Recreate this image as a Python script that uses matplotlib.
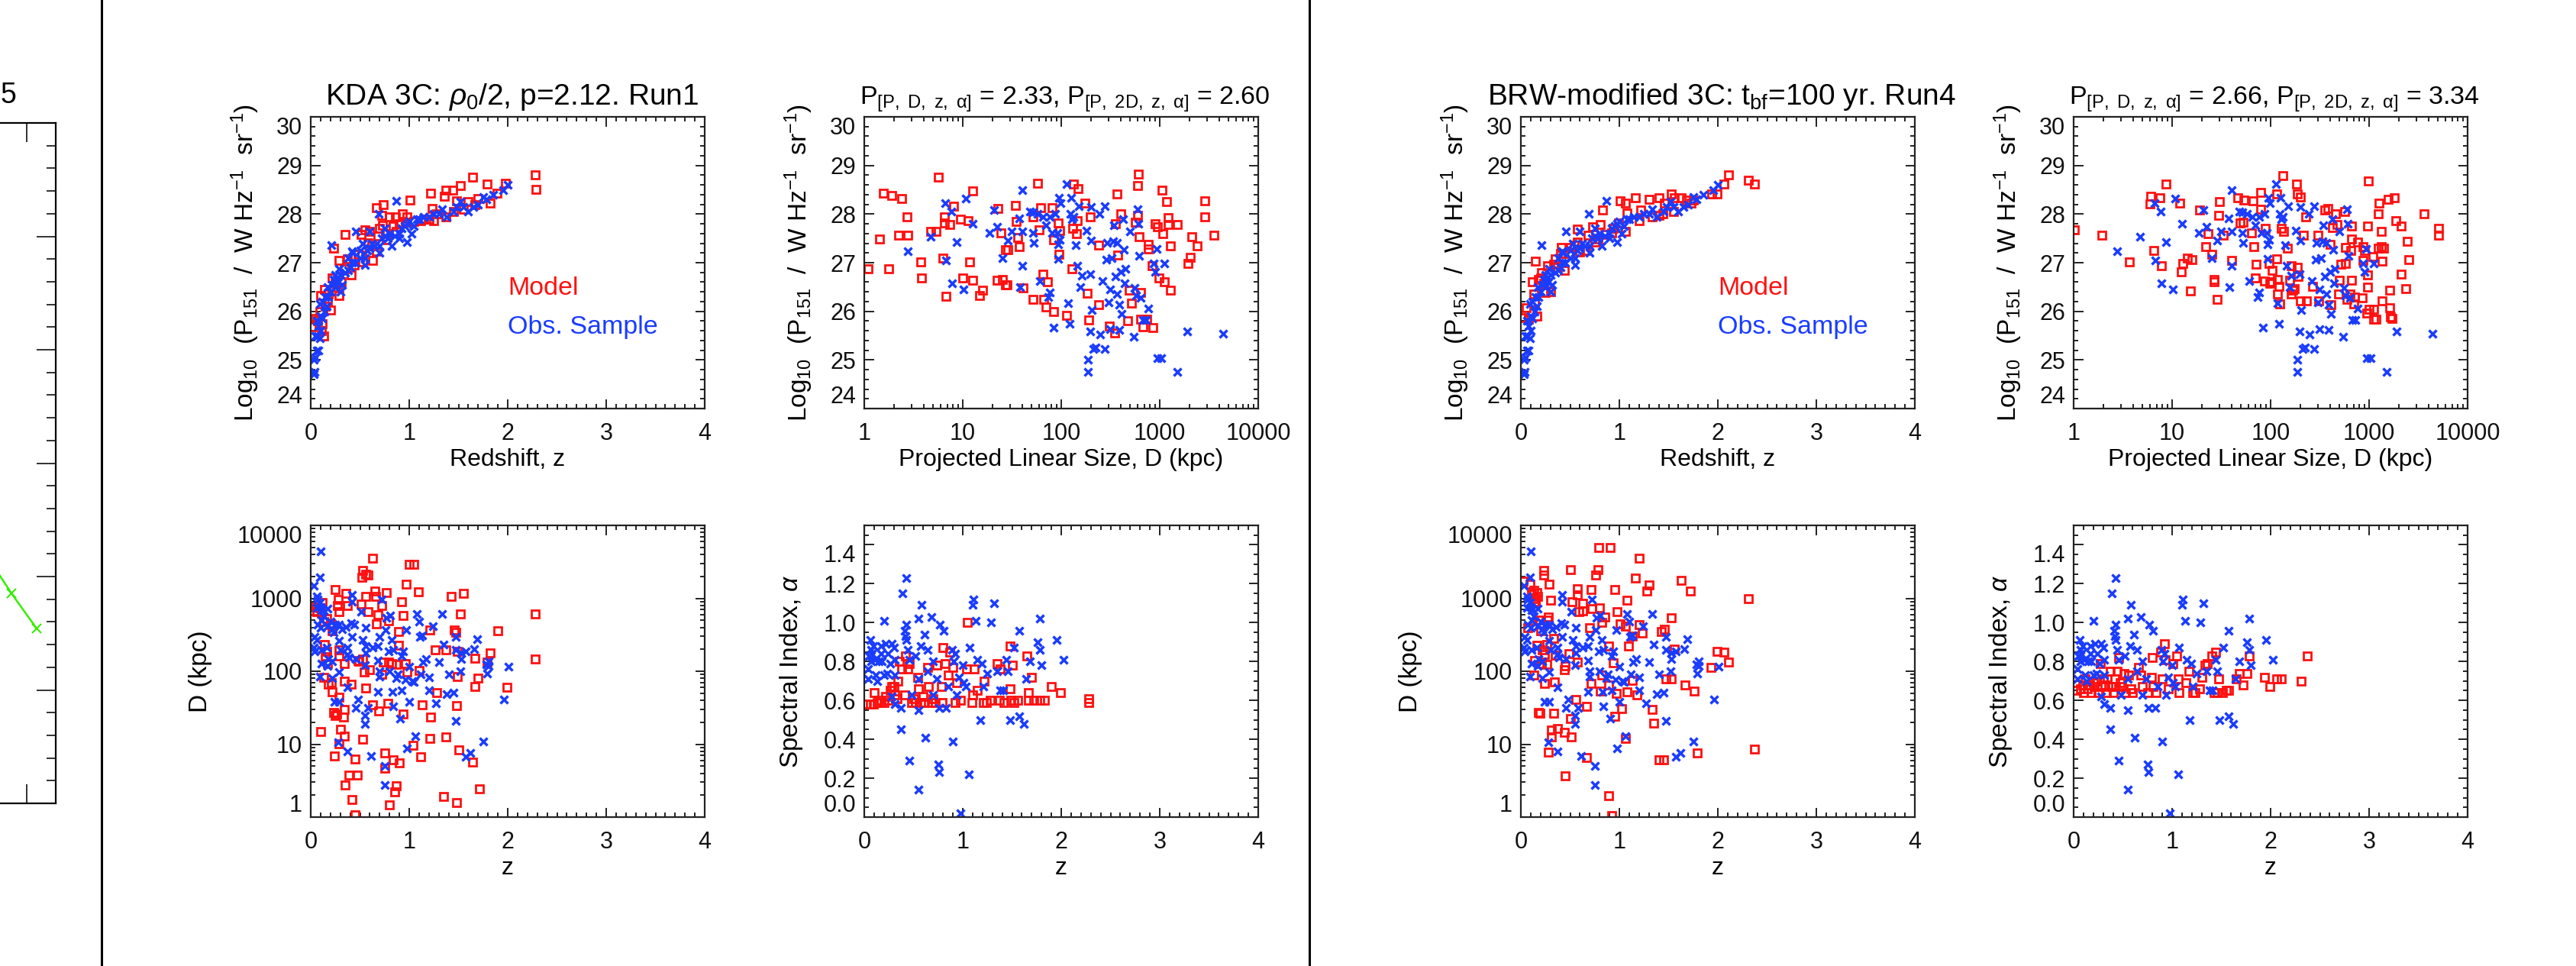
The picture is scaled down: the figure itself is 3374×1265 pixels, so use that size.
import numpy as np
import matplotlib
matplotlib.use('Agg')
import matplotlib.pyplot as plt
from matplotlib.lines import Line2D
from matplotlib.ticker import MultipleLocator, LogLocator, FixedLocator, FuncFormatter, NullFormatter

plt.rcParams['font.family'] = ['Liberation Sans', 'DejaVu Sans']
plt.rcParams['mathtext.fontset'] = 'custom'
plt.rcParams['mathtext.rm'] = 'Liberation Sans'
plt.rcParams['mathtext.it'] = 'Liberation Sans:italic'
plt.rcParams['mathtext.bf'] = 'Liberation Sans:bold'

RED = '#ff1010'
BLUE = '#1a3cff'
TICK_FS = 22
LAB_FS = 23

# ---- observed 3C sample (same in both halves) ----
obs_pz = [(0.03, 24.7), (0.04, 24.75), (0.03, 25.0), (0.05, 25.05), (0.06, 25.2), (0.08, 25.2), (0.05, 25.5),
          (0.07, 25.5), (0.09, 25.45), (0.10, 25.6), (0.08, 25.7), (0.06, 25.8), (0.10, 25.9), (0.12, 25.85),
          (0.09, 26.15), (0.14, 26.0), (0.16, 26.1), (0.18, 26.3), (0.20, 26.4), (0.17, 26.5), (0.22, 26.55),
          (0.25, 26.5), (0.23, 26.65), (0.27, 26.7), (0.30, 26.75), (0.28, 26.6), (0.32, 26.55), (0.35, 26.8),
          (0.38, 26.85), (0.40, 26.9), (0.42, 27.0), (0.45, 27.0), (0.38, 27.1), (0.43, 27.2), (0.50, 27.1),
          (0.55, 27.1), (0.57, 27.25), (0.60, 27.3), (0.53, 27.4), (0.62, 27.4), (0.65, 27.35), (0.70, 27.35),
          (0.72, 27.5), (0.75, 27.55), (0.78, 27.5), (0.80, 27.6), (0.85, 27.55), (0.90, 27.6), (0.92, 27.7),
          (0.95, 27.75), (0.98, 27.8), (1.00, 27.85), (1.05, 27.75), (1.08, 27.9), (1.10, 27.9), (1.15, 27.95),
          (1.20, 27.95), (1.25, 28.0), (1.30, 28.0), (1.33, 28.1), (1.38, 27.95), (1.45, 28.05), (1.48, 28.15),
          (1.52, 28.25), (1.55, 28.15), (1.60, 28.05), (1.65, 28.15), (1.70, 28.2), (1.75, 28.35), (1.78, 28.3),
          (1.85, 28.4), (1.95, 28.5), (2.00, 28.6), (0.21, 27.36), (0.29, 26.87), (0.42, 27.23), (0.46, 27.64),
          (0.69, 28.0), (0.87, 28.27), (0.98, 27.43), (0.30, 26.4), (0.55, 26.95), (0.70, 27.2), (0.82, 27.35),
          (0.90, 27.5), (1.02, 27.6), (0.75, 27.7), (0.60, 27.65), (0.50, 27.25), (0.15, 26.3), (0.12, 26.2),
          (0.25, 26.75)]

obs_pd = [(6.67, 28.22), (7.71, 28.05), (6.79, 27.05), (8.69, 27.43), (7.85, 26.57), (10.2, 26.45), (10.8, 28.32),
          (12.6, 27.8), (18.8, 27.62), (20.9, 28.08), (22.4, 27.74), (25.4, 27.1), (28.9, 27.46), (31.4, 27.64),
          (37.3, 27.91), (37.9, 26.5), (39.9, 28.49), (39.9, 26.94), (40.6, 27.64), (48.1, 28.06), (51.5, 28.03),
          (51.5, 27.62), (52.4, 27.41), (58, 28.01), (60.5, 26.63), (64.8, 27.95), (70.5, 27.77), (73.6, 26.3),
          (76.8, 26.39), (76.8, 27.95), (80.1, 27.62), (83.6, 25.67), (87.3, 28.01), (95, 28.34), (91, 27.62),
          (93.4, 27.08), (93.4, 27.38), (96.6, 27.47), (99, 28.22), (113, 28.61), (117, 26.16), (121, 25.74),
          (123, 28.0), (125, 28.34), (128, 27.89), (134, 27.95), (141, 27.36), (146, 26.93), (150, 28.16),
          (156, 26.5), (161, 26.74), (180, 27.66), (188, 25.0), (188, 24.76), (196, 25.58), (196, 26.76),
          (201, 28.14), (199, 27.46), (205, 26.03), (213, 25.22), (223, 25.26), (242, 28.01), (247, 25.52),
          (264, 26.63), (275, 28.16), (275, 25.22), (287, 27.06), (292, 27.41), (300, 26.18), (313, 26.45),
          (313, 25.63), (326, 27.1), (335, 27.44), (341, 27.77), (356, 26.72), (365, 26.36), (371, 27.41),
          (387, 25.61), (387, 26.14), (404, 26.81), (411, 25.94), (422, 27.89), (433, 27.26), (440, 26.57),
          (448, 26.87), (500, 27.65), (544, 25.48), (558, 26.48), (578, 26.33), (593, 28.1), (608, 27.8),
          (618, 27.14), (645, 26.27), (673, 25.82), (721, 25.82), (765, 26.06), (869, 26.99), (906, 26.81),
          (930, 27.29), (946, 25.04), (1030, 25.04), (1122, 26.99), (1511, 24.76), (1901, 25.58), (4379, 25.54),
          (4.75, 27.53), (2.78, 27.23)]

obs_dz = [(0.10, 4385), (0.09, 1945), (0.03, 1486), (0.06, 1072), (0.07, 970), (0.06, 735), (0.09, 879), (0.11, 685),
          (0.17, 721), (0.13, 562), (0.11, 509), (0.07, 439), (0.10, 397), (0.17, 418), (0.20, 484), (0.22, 378),
          (0.23, 342), (0.04, 295), (0.06, 267), (0.03, 209), (0.04, 189), (0.11, 198), (0.16, 209), (0.18, 147),
          (0.22, 136), (0.11, 127), (0.17, 118), (0.09, 85), (0.22, 81), (0.25, 439), (0.29, 439), (0.30, 198),
          (0.29, 262), (0.29, 97), (0.32, 378), (0.37, 209), (0.37, 171), (0.39, 155), (0.36, 406), (0.41, 461),
          (0.42, 1127), (0.42, 898), (0.44, 439), (0.42, 295), (0.46, 147), (0.37, 60), (0.24, 38.5), (0.29, 38.5),
          (0.28, 10.6), (0.37, 7.9), (0.46, 31.6), (0.48, 40.5), (0.51, 653), (0.56, 397), (0.53, 267), (0.56, 219),
          (0.55, 121), (0.56, 180), (0.58, 31.6), (0.55, 24.7), (0.55, 18.9), (0.61, 6.8), (0.63, 209), (0.68, 223),
          (0.70, 295), (0.72, 970), (0.68, 140), (0.70, 99), (0.68, 52), (0.70, 85), (0.75, 5.05), (0.75, 2.78),
          (0.77, 535), (0.76, 367), (0.79, 189), (0.80, 99), (0.81, 579), (0.82, 267), (0.83, 52), (0.84, 198),
          (0.84, 33.3), (0.88, 90), (0.87, 81), (0.91, 22.3), (0.92, 54.6), (0.92, 162), (0.94, 189), (0.96, 77),
          (0.97, 371), (1.00, 115), (1.00, 38.5), (0.98, 8.7), (1.03, 73), (1.05, 72), (1.06, 12.9), (1.08, 603),
          (1.10, 484), (1.11, 295), (1.13, 310), (1.14, 133), (1.12, 90), (1.17, 147), (1.20, 83), (1.20, 54.6),
          (1.24, 418), (1.27, 36.7), (1.30, 133), (1.33, 608), (1.35, 230), (1.40, 90), (1.38, 48), (1.45, 50.4),
          (1.47, 198), (1.47, 295), (1.47, 20.8), (1.53, 180), (1.52, 101), (1.53, 147), (1.57, 189), (1.57, 6.7),
          (1.62, 7.5), (1.66, 202), (1.69, 272), (1.75, 10.8), (1.78, 123), (1.79, 94), (1.81, 136), (1.81, 118),
          (1.96, 40.5), (2.01, 115), (0.10, 757)]

obs_az = [(0.04, 0.76), (0.05, 0.83), (0.06, 0.91), (0.07, 0.86), (0.04, 0.71), (0.07, 0.80), (0.08, 0.84),
          (0.09, 0.88), (0.11, 0.81), (0.12, 0.73), (0.13, 0.70), (0.15, 0.80), (0.17, 0.88), (0.17, 0.84),
          (0.18, 0.80), (0.20, 1.01), (0.20, 0.73), (0.22, 0.89), (0.23, 0.74), (0.24, 0.84), (0.26, 0.79),
          (0.28, 0.89), (0.28, 0.62), (0.30, 0.87), (0.31, 0.81), (0.31, 0.73), (0.31, 0.58), (0.37, 0.56),
          (0.37, 0.45), (0.39, 1.15), (0.41, 0.96), (0.42, 0.93), (0.43, 1.23), (0.43, 0.91), (0.43, 0.99),
          (0.44, 0.86), (0.46, 0.81), (0.46, 0.29), (0.48, 0.63), (0.52, 0.83), (0.55, 0.71), (0.55, 0.55),
          (0.55, 1.02), (0.55, 0.14), (0.57, 0.88), (0.58, 1.09), (0.61, 0.94), (0.62, 0.41), (0.64, 0.86),
          (0.64, 0.75), (0.68, 1.03), (0.70, 0.80), (0.70, 0.63), (0.74, 0.71), (0.75, 0.27), (0.76, 0.23),
          (0.76, 0.56), (0.77, 0.99), (0.81, 0.96), (0.83, 0.56), (0.85, 0.67), (0.89, 0.86), (0.90, 0.39),
          (0.91, 0.80), (0.92, 0.84), (0.94, 0.63), (0.96, 0.72), (0.98, 0.02), (1.00, 0.78), (1.01, 0.69),
          (1.03, 0.67), (1.06, 0.22), (1.07, 0.87), (1.10, 1.09), (1.11, 1.12), (1.13, 1.01), (1.15, 0.81),
          (1.18, 0.50), (1.19, 0.79), (1.21, 0.67), (1.25, 0.74), (1.29, 1.00), (1.32, 1.10), (1.35, 0.75),
          (1.38, 0.65), (1.41, 0.65), (1.44, 0.81), (1.46, 0.75), (1.48, 0.50), (1.52, 0.87), (1.57, 0.96),
          (1.57, 0.52), (1.62, 0.48), (1.64, 0.71), (1.68, 0.80), (1.76, 0.90), (1.78, 1.02), (1.78, 0.86),
          (1.80, 0.78), (1.95, 0.91), (2.02, 0.81)]

# ---- KDA model, Run1 ----
kda_pz = [(0.01, 25.68), (0.07, 25.8), (0.11, 25.6), (0.13, 25.49), (0.10, 26.33), (0.14, 26.45), (0.17, 26.2),
          (0.20, 26.03), (0.23, 27.3), (0.29, 27.04), (0.35, 27.58), (0.34, 26.87), (0.37, 27.08), (0.22, 26.69),
          (0.25, 26.57), (0.29, 26.33), (0.48, 27.17), (0.51, 27.58), (0.55, 27.68), (0.60, 27.65), (0.53, 27.02),
          (0.58, 27.41), (0.67, 28.13), (0.74, 28.19), (0.72, 27.98), (0.73, 27.77), (0.80, 27.94), (0.86, 27.95),
          (0.93, 28.0), (0.87, 27.65), (1.01, 28.29), (0.70, 27.71), (0.77, 27.47), (0.96, 27.83), (1.22, 28.43),
          (1.23, 28.12), (1.36, 28.37), (1.37, 28.49), (1.44, 28.5), (1.52, 28.58), (1.48, 28.28), (1.64, 28.76),
          (1.79, 28.61), (1.82, 28.22), (1.70, 28.32), (1.89, 28.43), (1.98, 28.64), (2.28, 28.81), (2.29, 28.51),
          (1.20, 27.89), (1.37, 27.95), (1.12, 27.86), (0.63, 27.05), (0.67, 27.23), (0.41, 26.75), (1.25, 27.86),
          (1.60, 28.25), (1.67, 28.19), (0.98, 27.95), (0.15, 26.1), (0.18, 26.35), (0.27, 26.5), (0.31, 26.6),
          (0.44, 26.95), (0.52, 27.15), (0.62, 27.35), (0.68, 27.55), (0.76, 27.6), (0.84, 27.75), (0.90, 27.8),
          (1.05, 27.85), (1.15, 27.9), (1.28, 28.0), (1.45, 28.05), (1.55, 28.1), (0.05, 25.85), (0.09, 26.0),
          (0.12, 25.75)]

kda_pd = [(1.09, 26.88), (1.44, 27.48), (1.57, 28.43), (1.77, 26.88), (1.89, 28.38), (2.40, 28.32), (2.24, 27.57),
          (2.78, 27.57), (2.71, 27.94), (3.74, 27.02), (3.80, 26.68), (4.71, 27.65), (5.35, 27.65), (5.63, 28.76),
          (6.24, 27.10), (6.5, 27.94), (6.5, 27.82), (6.79, 26.31), (7.39, 27.79), (8.05, 28.16), (9.55, 27.89),
          (9.96, 26.69), (11.3, 27.86), (11.8, 27.02), (12.5, 28.48), (12.5, 26.64), (14.9, 26.32), (15.9, 26.44),
          (22.9, 28.11), (22.4, 26.64), (24.3, 27.62), (25.4, 26.66), (27, 26.55), (28.4, 26.55), (27, 27.26),
          (28.9, 27.26), (34.2, 28.18), (35.1, 27.85), (36.3, 27.52), (37.3, 27.33), (41.3, 26.48), (51.5, 26.25),
          (51.5, 27.94), (58, 28.64), (59.5, 27.67), (62, 28.13), (64.8, 26.77), (66.5, 26.25), (70.5, 26.09),
          (72.3, 26.6), (80.1, 28.13), (83.6, 27.47), (83.6, 26.0), (93.4, 27.82), (95, 27.18), (96.6, 27.66),
          (113, 25.91), (128, 26.88), (131, 27.71), (134, 28.61), (142, 27.6), (148, 28.52), (146, 27.87),
          (173, 28.23), (185, 26.37), (191, 25.82), (196, 27.94), (238, 27.36), (238, 26.13), (308, 25.7),
          (349, 25.55), (365, 28.41), (356, 27.8), (377, 27.15), (404, 28.01), (471, 25.81), (491, 26.43),
          (521, 26.16), (568, 27.84), (608, 28.82), (593, 28.58), (593, 27.98), (618, 27.53), (645, 26.39),
          (673, 25.68), (645, 25.83), (733, 25.83), (765, 27.38), (765, 27.28), (832, 26.93), (855, 25.67),
          (906, 27.8), (946, 27.74), (987, 26.69), (1047, 28.49), (1075, 27.59), (1122, 26.6), (1170, 28.25),
          (1222, 27.92), (1222, 27.79), (1274, 26.44), (1274, 27.35), (1511, 27.78), (1950, 26.99), (2124, 27.53),
          (2415, 27.35), (2865, 28.28), (2865, 27.94), (3540, 27.56), (2037, 27.11)]

kda_dz = [(0.03, 665), (0.06, 653), (0.05, 757), (0.11, 621), (0.09, 735), (0.12, 879), (0.10, 15), (0.13, 475),
          (0.16, 525), (0.14, 230), (0.13, 83), (0.15, 158), (0.16, 189), (0.17, 127), (0.18, 67), (0.20, 448),
          (0.21, 439), (0.22, 360), (0.21, 70), (0.22, 52), (0.23, 27.2), (0.25, 24.7), (0.26, 25.9), (0.24, 6.9),
          (0.25, 1334), (0.28, 970), (0.27, 796), (0.29, 653), (0.29, 198), (0.29, 162), (0.29, 43.9), (0.29, 10.1),
          (0.30, 16.1), (0.33, 23.5), (0.34, 30.1), (0.34, 127), (0.36, 1183), (0.34, 73), (0.34, 12.9), (0.35, 2.78),
          (0.37, 796), (0.39, 3.8), (0.41, 67), (0.42, 1.74), (0.45, 1.08), (0.45, 6.3), (0.47, 3.74), (0.48, 140),
          (0.49, 136), (0.51, 836), (0.53, 2421), (0.52, 1945), (0.53, 147), (0.53, 11.7), (0.54, 97), (0.56, 1072),
          (0.56, 2147), (0.58, 2082), (0.58, 653), (0.56, 58.5), (0.60, 104), (0.63, 3525), (0.63, 34.9),
          (0.65, 1245), (0.66, 1072), (0.67, 448), (0.68, 592), (0.69, 28.6), (0.72, 796), (0.72, 90), (0.74, 133),
          (0.75, 7.65), (0.75, 4.7), (0.78, 36.7), (0.77, 1208), (0.79, 494), (0.79, 133), (0.80, 1.46), (0.82, 127),
          (0.84, 6.15), (0.87, 123), (0.85, 2.23), (0.87, 2.7), (0.89, 352), (0.89, 225), (0.90, 5.5), (0.92, 906),
          (0.94, 579), (0.94, 25.9), (0.96, 127), (0.97, 1563), (0.98, 97), (1.00, 2893), (1.05, 2893), (1.04, 9.6),
          (1.09, 1219), (1.10, 102), (1.12, 6.7), (1.13, 34.9), (1.21, 12.1), (1.21, 371), (1.22, 23.5), (1.26, 195),
          (1.28, 51), (1.35, 1.92), (1.37, 195), (1.37, 12.6), (1.43, 1052), (1.46, 371), (1.47, 342), (1.48, 34.2),
          (1.48, 1.58), (1.49, 189), (1.49, 85), (1.50, 8.3), (1.52, 603), (1.55, 1183), (1.64, 5.7), (1.67, 152),
          (1.67, 62), (1.70, 81), (1.71, 2.44), (1.79, 133), (1.82, 180), (1.90, 356), (1.99, 60), (2.28, 608),
          (2.28, 147)]

kda_az = [(0.02, 0.58), (0.06, 0.58), (0.09, 0.58), (0.13, 0.59), (0.17, 0.59), (0.10, 0.64), (0.20, 0.59),
          (0.24, 0.60), (0.26, 0.65), (0.28, 0.67), (0.30, 0.67), (0.31, 0.63), (0.34, 0.70), (0.36, 0.80),
          (0.38, 0.76), (0.41, 0.63), (0.42, 0.83), (0.44, 0.76), (0.46, 0.79), (0.48, 0.59), (0.52, 0.59),
          (0.54, 0.72), (0.55, 0.66), (0.57, 0.59), (0.61, 0.59), (0.64, 0.77), (0.65, 0.67), (0.68, 0.59),
          (0.72, 0.59), (0.74, 0.78), (0.78, 0.67), (0.79, 0.59), (0.80, 0.87), (0.82, 0.79), (0.85, 0.73),
          (0.87, 0.85), (0.90, 0.77), (0.92, 0.59), (0.94, 0.69), (0.98, 0.60), (1.04, 0.76), (1.05, 1.00),
          (1.09, 0.59), (1.10, 0.63), (1.12, 0.76), (1.15, 0.65), (1.21, 0.59), (1.22, 0.70), (1.24, 0.59),
          (1.28, 0.60), (1.35, 0.79), (1.38, 0.76), (1.37, 0.60), (1.42, 0.59), (1.48, 0.88), (1.48, 0.66),
          (1.50, 0.78), (1.49, 0.60), (1.52, 0.59), (1.56, 0.60), (1.65, 0.83), (1.67, 0.64), (1.67, 0.60),
          (1.70, 0.72), (1.72, 0.60), (1.78, 0.60), (1.83, 0.60), (1.90, 0.67), (1.99, 0.64), (2.28, 0.61),
          (2.28, 0.59), (0.15, 0.60), (0.22, 0.62), (0.33, 0.61), (0.50, 0.61), (0.60, 0.62), (0.70, 0.61)]

# ---- BRW-modified model, Run4 ----
brw_pz = [(0.02, 25.87), (0.055, 26.07), (0.08, 25.84), (0.12, 26.61), (0.135, 26.35), (0.14, 26.18), (0.15, 27.03),
          (0.16, 25.9), (0.18, 26.66), (0.20, 26.69), (0.21, 26.8), (0.23, 26.57), (0.25, 26.38), (0.27, 26.94),
          (0.30, 26.4), (0.33, 26.97), (0.35, 27.08), (0.37, 26.91), (0.41, 27.31), (0.44, 26.85), (0.49, 27.19),
          (0.50, 27.31), (0.57, 27.69), (0.57, 27.42), (0.60, 27.22), (0.66, 27.25), (0.68, 27.56), (0.73, 27.74),
          (0.75, 27.42), (0.81, 27.78), (0.83, 28.09), (0.85, 27.58), (0.92, 27.61), (0.99, 27.82), (1.01, 28.27),
          (1.06, 28.23), (1.08, 28.02), (1.16, 28.34), (1.20, 27.87), (1.22, 28.09), (1.30, 28.3), (1.33, 27.95),
          (1.40, 28.33), (1.44, 28.01), (1.46, 28.23), (1.53, 28.42), (1.56, 28.34), (1.63, 28.34), (1.68, 28.29),
          (1.73, 28.23), (1.75, 28.29), (1.94, 28.42), (1.99, 28.42), (2.06, 28.61), (2.11, 28.81), (2.31, 28.7),
          (2.37, 28.61), (0.40, 27.19), (0.54, 27.36), (0.78, 27.48), (1.06, 27.64), (1.40, 27.98), (1.55, 28.06),
          (0.94, 27.7)]

brw_pd = [(1.02, 27.67), (1.93, 27.56), (3.66, 27.02), (6.0, 28.21), (6.1, 28.37), (7.56, 28.34), (6.48, 27.25),
          (7.76, 26.94), (8.6, 28.61), (11.9, 28.23), (12.4, 26.81), (12.8, 26.99), (14.3, 27.09), (16.0, 27.07),
          (15.4, 26.42), (18.9, 28.08), (22.0, 27.33), (23.3, 27.6), (25.4, 27.17), (26.8, 26.66), (26.8, 26.6),
          (28.6, 26.25), (30.1, 28.26), (29.6, 27.97), (32.8, 27.57), (40.3, 27.04), (46.6, 28.34), (48.6, 27.81),
          (53, 27.84), (53.9, 28.29), (63.9, 27.61), (66.7, 28.27), (67.8, 27.33), (69.5, 26.69), (71.4, 26.97),
          (79.1, 28.44), (79.1, 28.1), (88.3, 27.71), (86.1, 26.62), (97.9, 26.57), (102, 26.6), (103, 26.84),
          (96.2, 26.99), (116, 27.08), (116, 28.42), (118, 26.66), (118, 26.35), (122, 26.52), (124, 26.15),
          (129, 27.7), (134, 28.79), (135, 27.64), (147, 27.3), (157, 26.64), (161, 26.94), (163, 26.35),
          (168, 26.43), (175, 26.46), (183, 28.62), (186, 28.42), (186, 26.91), (189, 26.71), (199, 28.35),
          (202, 26.22), (216, 27.56), (230, 26.22), (226, 27.95), (268, 26.52), (302, 27.56), (310, 26.21),
          (352, 28.09), (384, 28.12), (400, 27.37), (411, 26.13), (425, 27.72), (455, 28.01), (475, 27.78),
          (487, 26.35), (495, 26.64), (517, 26.97), (563, 28.06), (578, 26.99), (578, 27.31), (598, 26.24),
          (640, 26.35), (657, 27.25), (668, 26.64), (668, 27.76), (668, 27.48), (697, 26.15), (716, 26.3),
          (760, 27.42), (849, 26.28), (863, 27.33), (863, 27.05), (901, 27.25), (940, 25.96), (964, 27.75),
          (964, 26.49), (964, 26.75), (981, 28.68), (998, 26.04), (1087, 27.13), (1115, 26.04), (1115, 25.83),
          (1183, 25.83), (1235, 28.0), (1267, 28.23), (1246, 27.3), (1322, 27.64), (1322, 27.33), (1358, 27.03),
          (1358, 26.21), (1402, 27.3), (1567, 28.31), (1610, 26.43), (1610, 26.07), (1637, 25.88), (1722, 25.85),
          (1812, 28.34), (1860, 27.87), (2114, 27.76), (2114, 26.77), (2362, 26.47), (2445, 27.44), (2510, 27.06),
          (3622, 28.01), (5050, 27.71), (5050, 27.56)]

brw_dz = [(0.02, 1722), (0.09, 1581), (0.11, 1151), (0.13, 1300), (0.15, 1000), (0.16, 1200), (0.17, 1050),
          (0.14, 900), (0.15, 850), (0.07, 394), (0.13, 88), (0.14, 141), (0.16, 225), (0.18, 509), (0.19, 448),
          (0.20, 361), (0.21, 127), (0.22, 198), (0.23, 2388), (0.23, 2099), (0.24, 170), (0.24, 68), (0.26, 235),
          (0.26, 124), (0.27, 509), (0.28, 555), (0.29, 1581), (0.30, 944), (0.31, 15.7), (0.31, 12.7), (0.28, 7.8),
          (0.33, 284), (0.33, 26.4), (0.34, 70.6), (0.35, 167), (0.37, 16.4), (0.44, 14.4), (0.44, 104), (0.45, 118),
          (0.45, 3.66), (0.49, 174), (0.50, 2489), (0.51, 12.7), (0.52, 889), (0.50, 22.2), (0.56, 40.5), (0.57, 135),
          (0.57, 1365), (0.57, 1122), (0.59, 657), (0.63, 851), (0.63, 676), (0.67, 33.2), (0.67, 6.5), (0.70, 400),
          (0.71, 68), (0.71, 1310), (0.72, 718), (0.76, 2099), (0.78, 2489), (0.79, 4944), (0.80, 748), (0.81, 53.7),
          (0.82, 467), (0.82, 88), (0.85, 555), (0.89, 219), (0.89, 64.9), (0.89, 1.95), (0.91, 4944), (0.92, 1.04),
          (0.94, 131), (0.95, 1310), (0.95, 24.2), (0.97, 49.3), (0.98, 657), (1.01, 448), (1.02, 30.5), (1.06, 411),
          (1.06, 11.9), (1.08, 52.4), (1.08, 944), (1.09, 219), (1.13, 75.7), (1.13, 304), (1.16, 1875), (1.18, 46.9),
          (1.20, 437), (1.20, 3510), (1.23, 337), (1.28, 1253), (1.30, 1528), (1.33, 30), (1.35, 19.2), (1.40, 6.12),
          (1.45, 6.12), (1.43, 352), (1.46, 377), (1.47, 78.4), (1.53, 78.4), (1.53, 541), (1.56, 202), (1.63, 1766),
          (1.67, 64.9), (1.72, 1253), (1.76, 53.7), (1.79, 7.59), (1.93, 113), (1.99, 185), (2.06, 182), (2.11, 135),
          (2.31, 986), (2.37, 8.63), (0.18, 27.5), (0.19, 26.4)]

brw_az = [(0.03, 0.65), (0.07, 0.66), (0.09, 0.68), (0.10, 0.64), (0.12, 0.71), (0.14, 0.66), (0.16, 0.68),
          (0.18, 0.64), (0.20, 0.69), (0.21, 0.67), (0.23, 0.70), (0.25, 0.64), (0.27, 0.79), (0.28, 0.67),
          (0.30, 0.71), (0.32, 0.68), (0.33, 0.64), (0.34, 0.71), (0.37, 0.75), (0.38, 0.67), (0.40, 0.64),
          (0.42, 0.71), (0.43, 0.67), (0.44, 0.75), (0.46, 0.82), (0.47, 0.69), (0.49, 0.67), (0.51, 0.74),
          (0.53, 0.64), (0.56, 0.73), (0.58, 0.66), (0.60, 0.64), (0.66, 0.77), (0.68, 0.73), (0.70, 0.67),
          (0.75, 0.64), (0.79, 0.72), (0.80, 0.82), (0.81, 0.67), (0.84, 0.64), (0.88, 0.85), (0.90, 0.71),
          (0.92, 0.89), (0.93, 0.81), (0.96, 0.66), (1.01, 0.79), (1.05, 0.83), (1.06, 0.71), (1.07, 0.64),
          (1.14, 0.69), (1.17, 0.75), (1.21, 0.64), (1.23, 0.64), (1.28, 0.66), (1.30, 0.72), (1.33, 0.78),
          (1.36, 0.79), (1.40, 0.83), (1.44, 0.85), (1.43, 0.64), (1.46, 0.64), (1.47, 0.71), (1.51, 0.64),
          (1.55, 0.65), (1.57, 0.65), (1.65, 0.71), (1.68, 0.74), (1.72, 0.68), (1.76, 0.74), (1.78, 0.83),
          (1.94, 0.72), (1.99, 0.67), (2.06, 0.71), (2.11, 0.71), (2.31, 0.70), (2.37, 0.83)]

# left-hand panel that is cut off by the page edge
cut_x = [0.90, 0.959, 1.028]
cut_y = [2.14, 1.85, 1.54]

titles_kda = [r'KDA 3C: $\rho_0$/2, p=2.12. Run1',
              r'P$_\mathrm{[P,\ D,\ z,\ \alpha]}$ = 2.33, P$_\mathrm{[P,\ 2D,\ z,\ \alpha]}$ = 2.60']
titles_brw = [r'BRW-modified 3C: t$_\mathrm{bf}$=100 yr. Run4',
              r'P$_\mathrm{[P,\ D,\ z,\ \alpha]}$ = 2.66, P$_\mathrm{[P,\ 2D,\ z,\ \alpha]}$ = 3.34']
plab = r'Log$_\mathrm{10}$  (P$_\mathrm{151}$  /  W Hz$^\mathrm{-1}$  sr$^\mathrm{-1}$)'

W, H = 3374, 1265
TOP1, TOP2, AH = 153, 688, 382


def box(left, top, width, height):
    return [left / W, 1 - (top + height) / H, width / W, height / H]


def style(ax):
    ax.tick_params(which='both', direction='in', top=True, right=True, labelsize=TICK_FS, width=1.3,
                   colors='#111111')
    ax.tick_params(which='major', length=9)
    ax.tick_params(which='minor', length=4.5)
    ax.tick_params(axis='x', pad=13)
    ax.tick_params(axis='y', pad=8)
    for s in ax.spines.values():
        s.set_linewidth(1.6)
        s.set_color('#222222')
    # IDL-like: end labels of the y axis are pulled inside the frame
    ticks = ax.yaxis.get_major_ticks()
    ticks[0].label1.set_va('bottom')
    ticks[-1].label1.set_va('top')


def pts(data):
    a = np.array(data, dtype=float)
    return a[:, 0], a[:, 1]


def scatter(ax, model, obs):
    x, y = pts(model)
    ax.plot(x, y, 's', mfc='none', mec=RED, ms=7, mew=2.0, ls='none')
    x, y = pts(obs)
    ax.plot(x, y, 'x', color=BLUE, ms=7, mew=2.5, ls='none')


intfmt = FuncFormatter(lambda v, p: '%d' % round(v))


def put_title(ax, text, size, xc=0.5):
    ax.text(xc, 1 + 16 / AH, text, transform=ax.transAxes, ha='center', va='baseline', fontsize=size)


def panel_pz(ax, model, title):
    scatter(ax, model, obs_pz)
    ax.set_xlim(0, 4)
    ax.set_ylim(24, 30)
    ax.xaxis.set_major_locator(MultipleLocator(1))
    ax.xaxis.set_minor_locator(MultipleLocator(0.1))
    ax.yaxis.set_major_locator(FixedLocator(np.arange(24, 31)))
    ax.yaxis.set_minor_locator(MultipleLocator(0.2))
    ax.yaxis.set_major_formatter(intfmt)
    ax.set_xlabel('Redshift, z', fontsize=LAB_FS, labelpad=3)
    ax.set_ylabel(plab, fontsize=24, va='center')
    ax.yaxis.set_label_coords(-0.167, 0.5)
    put_title(ax, title, 28, 0.51)
    ax.text(2.0, 26.48, 'Model', color=RED, fontsize=24.5, va='center')
    ax.text(2.0, 25.67, 'Obs. Sample', color=BLUE, fontsize=24.5, va='center')
    style(ax)


def panel_pd(ax, model, title):
    scatter(ax, model, obs_pd)
    ax.set_xscale('log')
    ax.set_xlim(1, 10000)
    ax.set_ylim(24, 30)
    ax.xaxis.set_major_locator(FixedLocator([1, 10, 100, 1000, 10000]))
    ax.xaxis.set_minor_locator(LogLocator(base=10, subs=np.arange(2, 10)))
    ax.xaxis.set_major_formatter(intfmt)
    ax.xaxis.set_minor_formatter(NullFormatter())
    ax.yaxis.set_major_locator(FixedLocator(np.arange(24, 31)))
    ax.yaxis.set_minor_locator(MultipleLocator(0.2))
    ax.yaxis.set_major_formatter(intfmt)
    ax.set_xlabel('Projected Linear Size, D (kpc)', fontsize=LAB_FS, labelpad=3)
    ax.set_ylabel(plab, fontsize=24, va='center')
    ax.yaxis.set_label_coords(-0.167, 0.5)
    put_title(ax, title, 24.5, 0.51)
    style(ax)


def panel_dz(ax, model):
    scatter(ax, model, obs_dz)
    ax.set_yscale('log')
    ax.set_xlim(0, 4)
    ax.set_ylim(1, 10000)
    ax.xaxis.set_major_locator(MultipleLocator(1))
    ax.xaxis.set_minor_locator(MultipleLocator(0.1))
    ax.yaxis.set_major_locator(FixedLocator([1, 10, 100, 1000, 10000]))
    ax.yaxis.set_minor_locator(LogLocator(base=10, subs=np.arange(2, 10)))
    ax.yaxis.set_major_formatter(intfmt)
    ax.yaxis.set_minor_formatter(NullFormatter())
    ax.set_xlabel('z', fontsize=LAB_FS, labelpad=3)
    ax.set_ylabel('D (kpc)', fontsize=24, va='center')
    ax.yaxis.set_label_coords(-0.28, 0.5)
    style(ax)


def panel_az(ax, model):
    scatter(ax, model, obs_az)
    ax.set_xlim(0, 4)
    ax.set_ylim(0, 1.5)
    ax.xaxis.set_major_locator(MultipleLocator(1))
    ax.xaxis.set_minor_locator(MultipleLocator(0.1))
    ax.yaxis.set_major_locator(FixedLocator(np.arange(0, 1.41, 0.2)))
    ax.yaxis.set_minor_locator(MultipleLocator(0.05))
    ax.yaxis.set_major_formatter(FuncFormatter(lambda v, p: '%.1f' % v))
    ax.set_xlabel('z', fontsize=LAB_FS, labelpad=3)
    ax.set_ylabel(r'Spectral Index, $\alpha$', fontsize=24, va='center')
    ax.yaxis.set_label_coords(-0.185, 0.5)
    style(ax)


fig = plt.figure(figsize=(W / 100, H / 100), dpi=100)
fig.patch.set_facecolor('white')

cols = [407, 1132, 1992, 2716]
aw = 516

panel_pz(fig.add_axes(box(cols[0], TOP1, aw, AH)), kda_pz, titles_kda[0])
panel_pd(fig.add_axes(box(cols[1], TOP1, aw, AH)), kda_pd, titles_kda[1])
panel_pz(fig.add_axes(box(cols[2], TOP1, aw, AH)), brw_pz, titles_brw[0])
panel_pd(fig.add_axes(box(cols[3], TOP1, aw, AH)), brw_pd, titles_brw[1])

panel_dz(fig.add_axes(box(cols[0], TOP2, aw, AH)), kda_dz)
panel_az(fig.add_axes(box(cols[1], TOP2, aw, AH)), kda_az)
panel_dz(fig.add_axes(box(cols[2], TOP2, aw, AH)), brw_dz)
panel_az(fig.add_axes(box(cols[3], TOP2, aw, AH)), brw_az)

# panel cut by the left page edge
ax0 = fig.add_axes(box(-443, 161, 516, 891))
ax0.plot(cut_x, cut_y, '-', color='#33ee00', lw=1.8)
ax0.plot(cut_x, cut_y, 'x', color='#33ee00', ms=8, mew=1.5, ls='none')
ax0.set_xlim(0, 1.08)
ax0.set_ylim(0, 6)
ax0.set_xticks([1.0])
ax0.yaxis.set_major_locator(MultipleLocator(1))
ax0.yaxis.set_minor_locator(MultipleLocator(0.2))
ax0.tick_params(which='both', direction='in', top=True, right=True, labelleft=False, labelbottom=False,
                width=1.3, colors='#222222')
ax0.tick_params(which='major', length=18)
ax0.tick_params(which='minor', length=9)
for s in ax0.spines.values():
    s.set_linewidth(1.6)
fig.text(1 / W, 1 - 125 / H, '5', ha='left', va='center', fontsize=27)

# page separators
for xp in (133, 1715):
    fig.add_artist(Line2D([xp / W, xp / W], [0, 1], transform=fig.transFigure, color='black', lw=2.2))

fig.savefig('out.png', dpi=100, facecolor='white')
